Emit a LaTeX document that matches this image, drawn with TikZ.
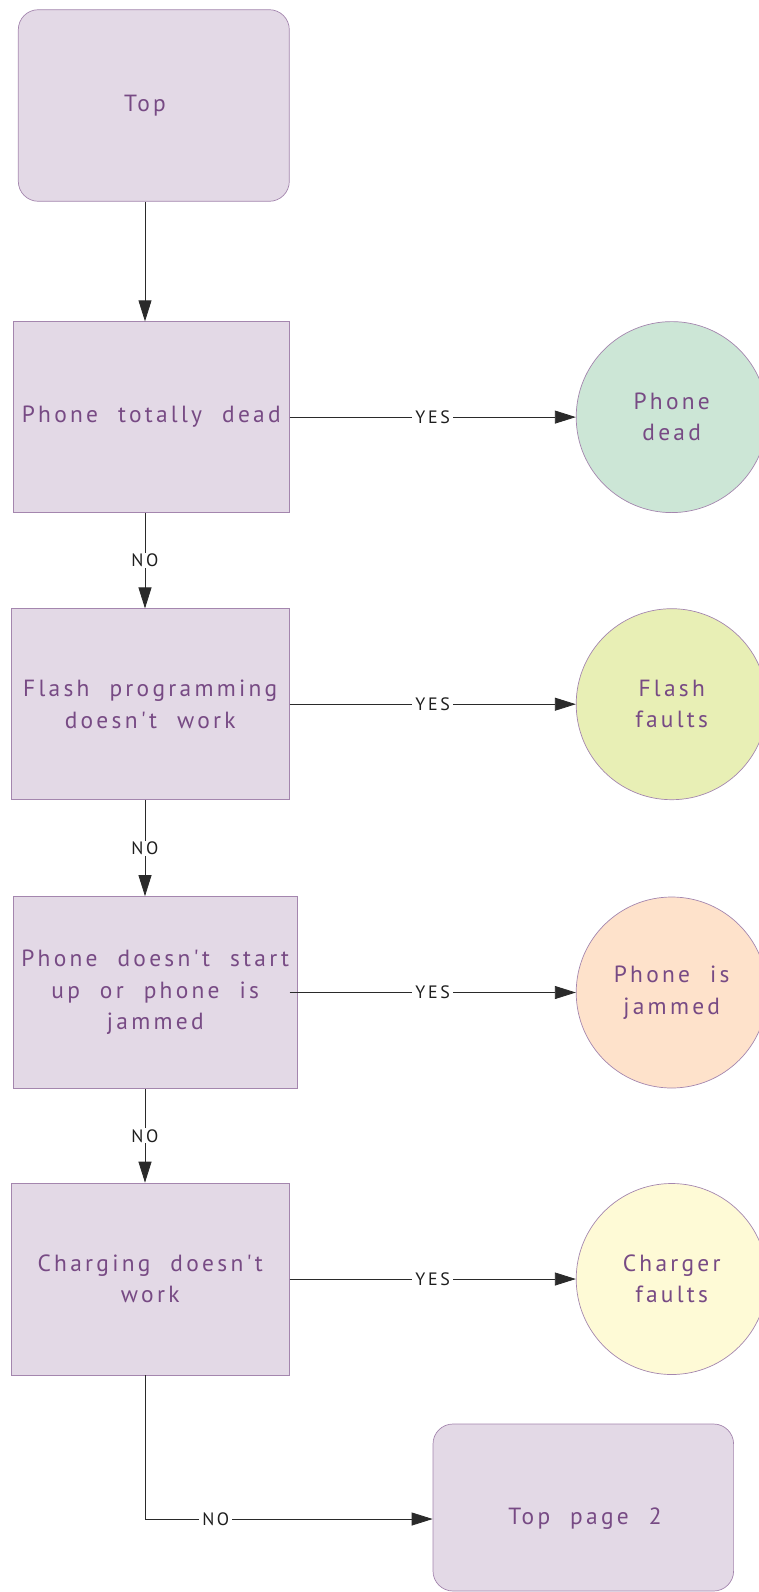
\documentclass[tikz,border=0pt]{standalone}
\usepackage{fontspec}
\setmainfont{PT Sans}
\newfontfamily\boxfont{PT Sans}[LetterSpace=14,WordSpace=2.1]
\newfontfamily\tagfont{PT Sans}[LetterSpace=15]
\usetikzlibrary{arrows.meta}

\definecolor{boxfill}{HTML}{E3D9E6}
\definecolor{boxline}{HTML}{A486AE}
\definecolor{txtcol}{HTML}{774A84}
\definecolor{linecol}{HTML}{2A2A2A}
\definecolor{tagcol}{HTML}{1E1E1E}
\definecolor{deadfill}{HTML}{CCE6D6}
\definecolor{flashfill}{HTML}{E8EFB5}
\definecolor{jamfill}{HTML}{FEE2CB}
\definecolor{chargefill}{HTML}{FEFAD6}

\begin{document}
\begin{tikzpicture}[x=1bp,y=-1bp,
  boxtext/.style={text=txtcol, align=center,
    font=\boxfont\fontsize{23.5}{31.5}\selectfont},
  question/.style={boxtext, rectangle, draw=boxline, fill=boxfill,
    line width=0.7bp, inner sep=0pt},
  terminal/.style={question, rounded corners=20bp},
  outcome/.style={boxtext, circle, draw=boxline, fill=#1,
    line width=0.7bp, inner sep=0pt, minimum size=191bp},
  flow/.style={draw=linecol, line width=0.8bp,
    -{Triangle[length=21bp,width=13bp]}},
  tag/.style={fill=white, text=tagcol, inner xsep=3bp, inner ysep=1bp,
    font=\tagfont\fontsize{18}{20}\selectfont}]
\useasboundingbox (0,0) rectangle (759,1592);

% vertical spine of the NO branch
\coordinate (spine) at (145,0);

% start and continuation terminals
\node[terminal, minimum width=271bp, minimum height=191.6bp] (top) at (153.8,105.5) {};
\node[boxtext] (toptext) at (spine |- top) {Top};
\node[terminal, minimum width=300.6bp, minimum height=167bp] (next) at (583.3,1507.5) {};
\node[boxtext] (nexttext) at (585,1519) {Top page 2};

% questions
\node[question, minimum width=276bp, minimum height=190.8bp] (q1) at (151.25,417.1) {Phone totally dead};
\node[question, minimum width=278bp, minimum height=190.8bp] (q2) at (150.25,704.2) {Flash programming\\doesn't work};
\node[question, minimum width=284bp, minimum height=192bp] (q3) at (155.25,992.5) {Phone doesn't start\\up or phone is\\jammed};
\node[question, minimum width=278bp, minimum height=192bp] (q4) at (150.25,1279) {Charging doesn't\\work};

% outcomes
\node[outcome=deadfill]   (o1) at (671.7,417.1)  {Phone\\dead};
\node[outcome=flashfill]  (o2) at (671.7,704.2)  {Flash\\faults};
\node[outcome=jamfill]    (o3) at (671.7,992.5)  {Phone is\\jammed};
\node[outcome=chargefill] (o4) at (671.7,1279)   {Charger\\faults};

\draw[flow] (top.south -| spine) -- (q1.north -| spine);
\draw[flow] (q1.south -| spine) -- node[tag]{NO} (q2.north -| spine);
\draw[flow] (q2.south -| spine) -- node[tag]{NO} (q3.north -| spine);
\draw[flow] (q3.south -| spine) -- node[tag]{NO} (q4.north -| spine);
\draw[flow] (q4.south -| spine) |- node[tag, pos=0.623]{NO} (next.west |- nexttext);

\draw[flow] (q1.east) -- node[tag]{YES} (o1.west);
\draw[flow] (q2.east) -- node[tag]{YES} (o2.west);
\draw[flow] (q3.east -| q1.east) -- node[tag]{YES} (o3.west);
\draw[flow] (q4.east) -- node[tag]{YES} (o4.west);
\end{tikzpicture}
\end{document}
